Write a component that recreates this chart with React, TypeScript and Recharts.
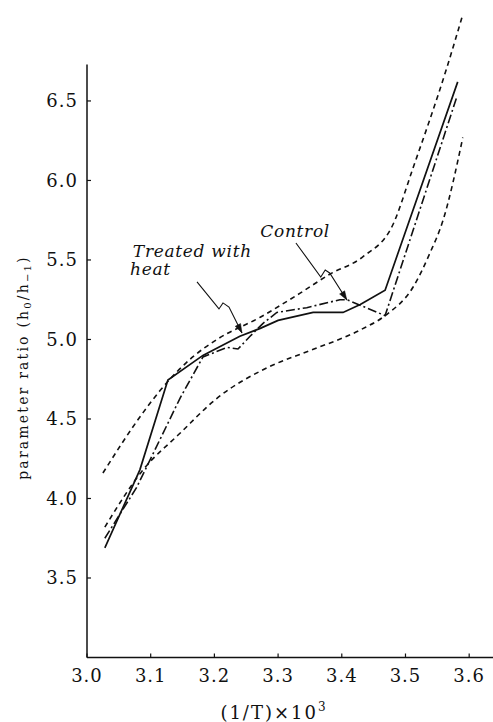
import { Label, Line, LineChart, ReferenceDot, ReferenceLine, XAxis, YAxis } from 'recharts'

const FONT = "'DejaVu Serif', 'Liberation Serif', serif"
const INK = '#111'

// x = (1/T)x10^3, y = parameter ratio
const xTicks = [3.0, 3.1, 3.2, 3.3, 3.4, 3.5, 3.6]
const yTicks = [3.5, 4.0, 4.5, 5.0, 5.5, 6.0, 6.5]

const solidX = [3.028, 3.083, 3.127, 3.182, 3.206, 3.24, 3.272, 3.3, 3.355, 3.402, 3.429, 3.468, 3.582]
const solidY = [3.69, 4.18, 4.745, 4.9, 4.95, 5.02, 5.07, 5.12, 5.17, 5.17, 5.22, 5.31, 6.62]

const dashDotX = [3.028, 3.078, 3.146, 3.182, 3.22, 3.237, 3.256, 3.276, 3.298, 3.345, 3.397, 3.408, 3.468, 3.581]
const dashDotY = [3.75, 4.07, 4.63, 4.89, 4.95, 4.94, 5.02, 5.1, 5.17, 5.2, 5.25, 5.25, 5.15, 6.53]

const upperX = [3.025, 3.088, 3.115, 3.166, 3.204, 3.272, 3.334, 3.381, 3.433, 3.48, 3.512, 3.565, 3.589]
const upperY = [4.16, 4.54, 4.68, 4.89, 5.0, 5.14, 5.29, 5.41, 5.52, 5.72, 6.08, 6.71, 7.03]

const lowerX = [3.028, 3.088, 3.146, 3.204, 3.287, 3.35, 3.429, 3.468, 3.512, 3.538, 3.559, 3.59]
const lowerY = [3.82, 4.18, 4.41, 4.63, 4.83, 4.93, 5.06, 5.15, 5.33, 5.54, 5.75, 6.27]

// annotation arrows (wavy leader lines)
const treatedArrowX = [3.1727, 3.2072, 3.2135, 3.2229, 3.2433]
const treatedArrowY = [5.362, 5.192, 5.23, 5.204, 5.041]
const controlArrowX = [3.328, 3.367, 3.374, 3.381, 3.408]
const controlArrowY = [5.607, 5.393, 5.437, 5.418, 5.248]

const zip = (xs: number[], ys: number[]) => xs.map((x, i) => ({ x, y: ys[i] }))

function arrowDot(lastIndex: number, angleDeg: number) {
  return (props: any) => {
    const { cx, cy, index } = props
    if (index !== lastIndex || cx == null) return <g key={`d${index}`} />
    const a = (angleDeg * Math.PI) / 180
    const dx = Math.cos(a)
    const dy = Math.sin(a)
    const bx = cx - 9 * dx
    const by = cy - 9 * dy
    const pts = `${cx},${cy} ${bx - 3 * dy},${by + 3 * dx} ${bx + 3 * dy},${by - 3 * dx}`
    return <polygon key={`d${index}`} points={pts} fill={INK} stroke={INK} strokeWidth={0.5} />
  }
}

function note(text: string) {
  return (p: any) => (
    <text
      x={p.cx}
      y={p.cy}
      fontFamily={FONT}
      fontStyle="italic"
      fontSize={17}
      letterSpacing={0.7}
      fill={INK}
    >
      {text}
    </text>
  )
}

function YTitle(props: any) {
  const vb = props.viewBox
  const cx = vb.x + 23
  const cy = vb.y + 354
  return (
    <text
      x={cx}
      y={cy}
      transform={`rotate(-90 ${cx} ${cy})`}
      textAnchor="middle"
      dominantBaseline="central"
      fontFamily={FONT}
      fontSize={14}
      letterSpacing={2.2}
      fill={INK}
    >
      parameter ratio (h<tspan dy={4} fontSize={10}>0</tspan>
      <tspan dy={-4}>/h</tspan>
      <tspan dy={4} fontSize={10}>−1</tspan>
      <tspan dy={-4}>)</tspan>
    </text>
  )
}

function XTitle(props: any) {
  const vb = props.viewBox
  return (
    <text
      x={vb.x + 187}
      y={vb.y + 61}
      textAnchor="middle"
      fontFamily={FONT}
      fontSize={18}
      letterSpacing={2}
      fill={INK}
    >
      (1/T)×10<tspan dy={-8} fontSize={12}>3</tspan>
    </text>
  )
}

export default function App() {
  const tickStyle = { fill: INK, fontSize: 18, fontFamily: FONT, letterSpacing: 1 }
  return (
    <div style={{ position: 'absolute', left: 0, top: 0, width: 493, height: 722, background: '#fff' }}>
      <LineChart width={493} height={722} margin={{ top: 13.5, right: 0, left: 0, bottom: 0 }}>
        <XAxis
          type="number"
          dataKey="x"
          domain={[3.0, 3.6374]}
          ticks={xTicks}
          allowDataOverflow
          height={64.5}
          tickSize={-4}
          tickMargin={16}
          tickFormatter={(v: number) => v.toFixed(1)}
          tick={tickStyle}
          axisLine={{ stroke: INK, strokeWidth: 1.5 }}
          tickLine={{ stroke: INK, strokeWidth: 1.2 }}
        >
          <Label content={XTitle} />
        </XAxis>
        <YAxis
          type="number"
          domain={[3.0, 7.05]}
          ticks={yTicks}
          allowDataOverflow
          width={87}
          axisLine={false}
          tickSize={-4}
          tickMargin={13}
          tickFormatter={(v: number) => v.toFixed(1)}
          tick={tickStyle}
          tickLine={{ stroke: INK, strokeWidth: 1.2 }}
        >
          <Label content={YTitle} />
        </YAxis>
        <ReferenceLine
          segment={[{ x: 3.0, y: 3.0 }, { x: 3.0, y: 6.73 }]}
          stroke={INK}
          strokeWidth={1.5}
        />
        <Line data={zip(upperX, upperY)} dataKey="y" type="monotone" stroke={INK} strokeWidth={1.6} strokeDasharray="5 4" dot={false} isAnimationActive={false} />
        <Line data={zip(lowerX, lowerY)} dataKey="y" type="monotone" stroke={INK} strokeWidth={1.6} strokeDasharray="5 4" dot={false} isAnimationActive={false} />
        <Line data={zip(dashDotX, dashDotY)} dataKey="y" type="linear" stroke={INK} strokeWidth={1.6} strokeDasharray="9 3 2 3" dot={false} isAnimationActive={false} />
        <Line data={zip(solidX, solidY)} dataKey="y" type="linear" stroke={INK} strokeWidth={1.7} dot={false} isAnimationActive={false} />
        <Line data={zip(treatedArrowX, treatedArrowY)} dataKey="y" type="linear" stroke={INK} strokeWidth={1.1} dot={arrowDot(treatedArrowX.length - 1, 63)} isAnimationActive={false} />
        <Line data={zip(controlArrowX, controlArrowY)} dataKey="y" type="linear" stroke={INK} strokeWidth={1.1} dot={arrowDot(controlArrowX.length - 1, 58)} isAnimationActive={false} />
        <ReferenceDot x={3.072} y={5.519} r={0} shape={note('Treated with')} />
        <ReferenceDot x={3.0675} y={5.406} r={0} shape={note('heat')} />
        <ReferenceDot x={3.272} y={5.645} r={0} shape={note('Control')} />
      </LineChart>
    </div>
  )
}
